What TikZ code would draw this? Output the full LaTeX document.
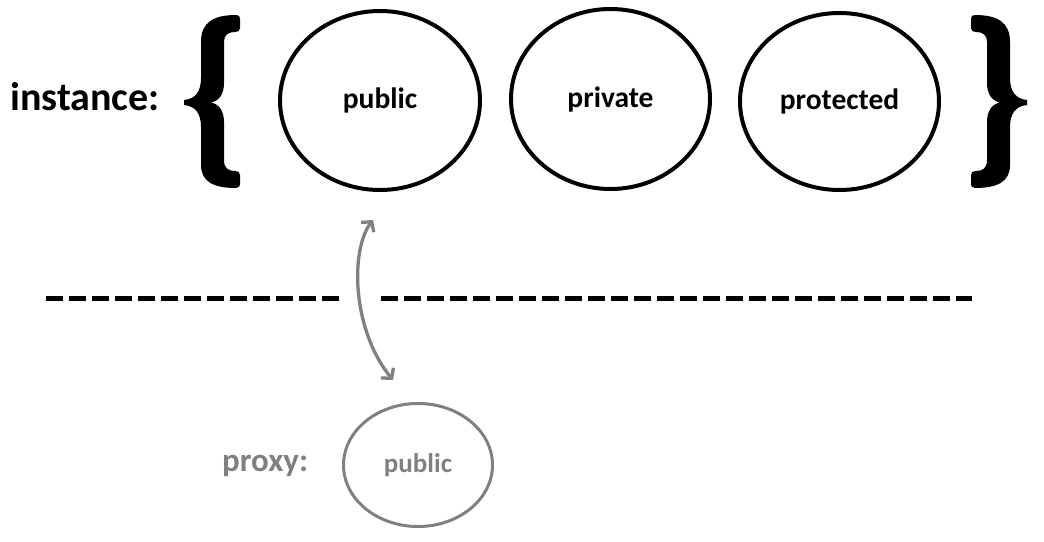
\documentclass[tikz,border=0pt]{standalone}
\usepackage{fontspec}
\setmainfont{Carlito}
\usetikzlibrary{shapes.geometric,arrows.meta}
\definecolor{pgray}{RGB}{128,128,128}
\begin{document}
\begin{tikzpicture}[x=1pt,y=-1pt,
  member/.style={ellipse,draw=black,line width=4pt,inner sep=0pt,
    font=\fontsize{29.5}{31}\selectfont\bfseries},
  proxyell/.style={ellipse,draw=pgray,line width=3pt,inner sep=0pt,text=pgray,
    font=\fontsize{27}{29}\selectfont\bfseries},
  lbl/.style={inner sep=0pt,font=\fontsize{40}{42}\selectfont\bfseries},
  sep/.style={line width=5pt,dash pattern=on 17pt off 6pt},
  arr/.style={pgray,line width=3.3pt,{Straight Barb[length=7pt,width=16pt]}-{Straight Barb[length=7pt,width=16pt]}},
  brace/.style={fill=black}]
\useasboundingbox (0,0) rectangle (1044,541);
% left brace
\fill[brace] (236,15) .. controls (214,15) and (201,22) .. (201,42)
  -- (201,78) .. controls (201,92) and (195,99) .. (184,100)
  -- (184,105) .. controls (195,106) and (201,113) .. (201,127)
  -- (201,165) .. controls (201,182) and (214,188) .. (236,188)
  .. controls (239,188) and (240,186) .. (240,184)
  -- (240,175) .. controls (240,172) and (238,171) .. (235,171)
  .. controls (228,171) and (224,168) .. (224,160)
  -- (224,122) .. controls (224,111) and (219,104) .. (211,102.5)
  .. controls (219,101) and (224,94) .. (224,83)
  -- (224,42) .. controls (224,35) and (228,32) .. (235,32)
  .. controls (238,32) and (240,31) .. (240,28)
  -- (240,19) .. controls (240,16) and (239,15) .. (236,15) -- cycle;
% right brace (mirror)
\begin{scope}[xshift=1211pt,xscale=-1]
\fill[brace] (236,15) .. controls (214,15) and (201,22) .. (201,42)
  -- (201,78) .. controls (201,92) and (195,99) .. (184,100)
  -- (184,105) .. controls (195,106) and (201,113) .. (201,127)
  -- (201,165) .. controls (201,182) and (214,188) .. (236,188)
  .. controls (239,188) and (240,186) .. (240,184)
  -- (240,175) .. controls (240,172) and (238,171) .. (235,171)
  .. controls (228,171) and (224,168) .. (224,160)
  -- (224,122) .. controls (224,111) and (219,104) .. (211,102.5)
  .. controls (219,101) and (224,94) .. (224,83)
  -- (224,42) .. controls (224,35) and (228,32) .. (235,32)
  .. controls (238,32) and (240,31) .. (240,28)
  -- (240,19) .. controls (240,16) and (239,15) .. (236,15) -- cycle;
\end{scope}
\node[lbl,anchor=base west] (inst) at (10,110) {instance:};
\node[member,minimum width=200pt,minimum height=179pt] (pub) at (380,100.5) {public};
\node[member,minimum width=199pt,minimum height=180pt] (priv) at (610.5,99) {private};
\node[member,minimum width=199pt,minimum height=177pt] (prot) at (839.5,101.5) {protected};
\node[lbl,text=pgray,anchor=base west,font=\fontsize{33}{35}\selectfont\bfseries] (proxy) at (222,471) {proxy:};
\node[proxyell,minimum width=149pt,minimum height=123pt] (ppub) at (418,465) {public};
% separator
\coordinate (s1) at (46,298);
\coordinate (s2) at (339,298);
\coordinate (s3) at (381,298);
\coordinate (s4) at (972,298);
\draw[sep] (s1) -- (s2);
\draw[sep] (s3) -- (s4);
% arrow
\coordinate (atop) at (373,220);
\coordinate (abot) at (393,380);
\draw[arr] (abot) .. controls (352,330) and (350,250) .. (atop);
\end{tikzpicture}
\end{document}
